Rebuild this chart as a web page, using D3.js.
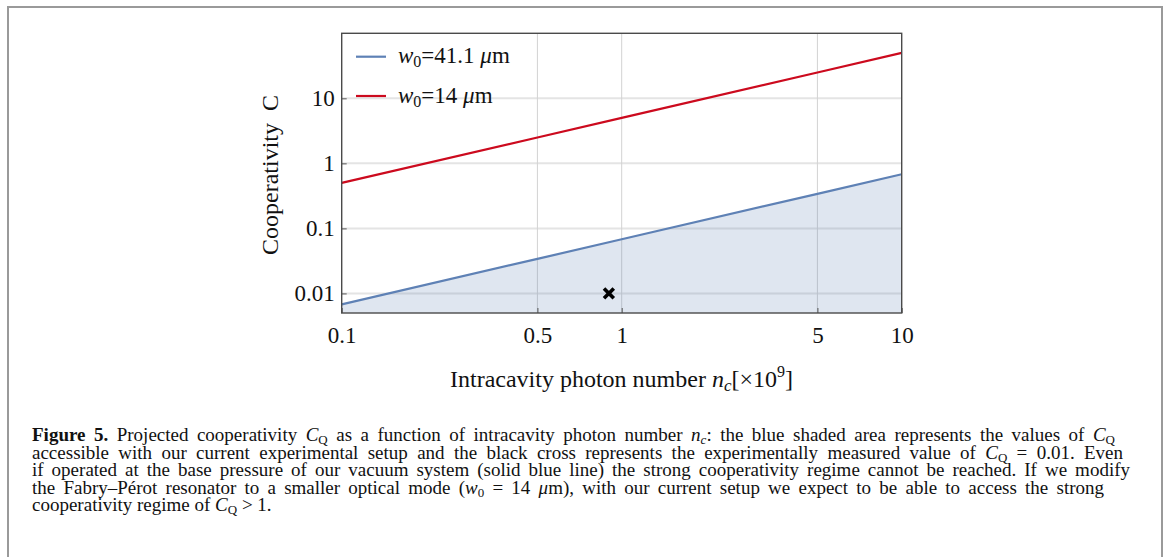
<!DOCTYPE html>
<html>
<head>
<meta charset="utf-8">
<script src="https://cdn.jsdelivr.net/npm/d3@7"></script>
<style>
  body { margin: 0; background: #fff; }
  svg { display: block; }
  text { font-family: "Liberation Serif", "Times New Roman", serif; fill: #111; }
</style>
</head>
<body>
<div id="chart"></div>
<script>
var width = 1169,
    height = 557;

// values
var photonNumbers = [0.1, 0.5, 1, 5, 10];
var coopLarge = [0.0068, 0.034, 0.068, 0.34, 0.68];   // w0 = 41.1 um
var coopSmall = [0.5, 2.5, 5, 25, 50];                // w0 = 14 um
var measured = [{n: 0.9, c: 0.01}];

var xTicks = [0.1, 0.5, 1, 5, 10],
    xTickLabels = ['0.1', '0.5', '1', '5', '10'];
var yTicks = [0.01, 0.1, 1, 10],
    yTickLabels = ['0.01', '0.1', '1', '10'];

var legendLabels = ['41.1', '14'];
var lineColors = ['#5e81b5', '#cc0a1e'];

var captionLines = [
  [['Figure 5.', 'b'], [' Projected cooperativity '], ['C', 'i'], ['Q', 'sub'], [' as a function of intracavity photon number '], ['n', 'i'], ['c', 'isub'], [': the blue shaded area represents the values of '], ['C', 'i'], ['Q', 'sub']],
  [['accessible with our current experimental setup and the black cross represents the experimentally measured value of '], ['C', 'i'], ['Q', 'sub'], [' = 0.01. Even']],
  [['if operated at the base pressure of our vacuum system (solid blue line) the strong cooperativity regime cannot be reached. If we modify']],
  [['the Fabry\u2013P\u00e9rot resonator to a smaller optical mode ('], ['w', 'i'], ['0', 'sub'], [' = 14 '], ['\u03bc', 'i'], ['m), with our current setup we expect to be able to access the strong']],
  [['cooperativity regime of '], ['C', 'i'], ['Q', 'sub'], [' > 1.']]
];
// right edge of each justified caption line (last line is left ragged)
var captionEnds = [1115, 1123, 1130, 1104, null];

var data = photonNumbers.map(function(n, i) {
    return {n: n, large: coopLarge[i], small: coopSmall[i]};
});

var svg = d3.select('#chart').append('svg')
    .attr('width', width)
    .attr('height', height);

// outer figure frame
svg.append('rect')
    .attr('x', 8).attr('y', 7)
    .attr('width', 1154).attr('height', 560)
    .attr('fill', 'none')
    .attr('stroke', '#9a9a9a')
    .attr('stroke-width', 2);

var plot = {left: 341.7, right: 901.7, top: 33.3, bottom: 313};

var x = d3.scaleLog()
    .domain([0.1, 10])
    .range([plot.left, plot.right]);

var y = d3.scaleLog()
    .domain([0.005, 100])
    .range([plot.bottom, plot.top]);

// grid
svg.append('g').selectAll('line')
    .data(yTicks)
    .enter().append('line')
    .attr('x1', plot.left).attr('x2', plot.right)
    .attr('y1', function(d) { return y(d); })
    .attr('y2', function(d) { return y(d); })
    .attr('stroke', '#e4e4e4')
    .attr('stroke-width', 2);

svg.append('g').selectAll('line')
    .data(xTicks.slice(1, -1))
    .enter().append('line')
    .attr('y1', plot.top).attr('y2', plot.bottom)
    .attr('x1', function(d) { return x(d); })
    .attr('x2', function(d) { return x(d); })
    .attr('stroke', '#d2d2d2')
    .attr('stroke-width', 1);

// shaded accessible region under the blue line
var area = d3.area()
    .x(function(d) { return x(d.n); })
    .y0(plot.bottom)
    .y1(function(d) { return y(d.large); });

svg.append('path')
    .datum(data)
    .attr('d', area)
    .attr('fill', 'rgba(94,129,181,0.2)');

var lineLarge = d3.line()
    .x(function(d) { return x(d.n); })
    .y(function(d) { return y(d.large); });
var lineSmall = d3.line()
    .x(function(d) { return x(d.n); })
    .y(function(d) { return y(d.small); });

svg.append('path')
    .datum(data)
    .attr('d', lineLarge)
    .attr('fill', 'none')
    .attr('stroke', lineColors[0])
    .attr('stroke-width', 2.2);

svg.append('path')
    .datum(data)
    .attr('d', lineSmall)
    .attr('fill', 'none')
    .attr('stroke', lineColors[1])
    .attr('stroke-width', 2.2);

// measured point
svg.append('g').selectAll('path')
    .data(measured)
    .enter().append('path')
    .attr('d', d3.symbol().type(d3.symbolX).size(64))
    .attr('transform', function(d) { return 'translate(' + x(d.n) + ',' + y(d.c) + ')'; })
    .attr('fill', 'none')
    .attr('stroke', '#000')
    .attr('stroke-width', 3.6);

// axes
var xAxis = d3.axisBottom(x)
    .tickValues(xTicks)
    .tickFormat(function(d, i) { return xTickLabels[i]; })
    .tickSizeInner(-5)
    .tickSizeOuter(0)
    .tickPadding(14);

var yAxis = d3.axisLeft(y)
    .tickValues(yTicks)
    .tickFormat(function(d, i) { return yTickLabels[i]; })
    .tickSizeInner(-5)
    .tickSizeOuter(0)
    .tickPadding(7);

var gx = svg.append('g')
    .attr('transform', 'translate(0,' + plot.bottom + ')')
    .call(xAxis);
var gy = svg.append('g')
    .attr('transform', 'translate(' + plot.left + ',0)')
    .call(yAxis);

[gx, gy].forEach(function(g) {
    g.attr('font-family', null).attr('font-size', null);
    g.selectAll('.domain').remove();
    g.selectAll('.tick line').attr('stroke', '#555').attr('stroke-width', 1);
    g.selectAll('.tick text')
        .attr('font-size', 23)
        .attr('fill', '#111');
});

// plot frame
svg.append('rect')
    .attr('x', plot.left).attr('y', plot.top)
    .attr('width', plot.right - plot.left)
    .attr('height', plot.bottom - plot.top)
    .attr('fill', 'none')
    .attr('stroke', '#4a4a4a')
    .attr('stroke-width', 1.4);

// axis titles
var xt = svg.append('text')
    .attr('x', 621.5).attr('y', 387)
    .attr('text-anchor', 'middle')
    .attr('font-size', 24);
xt.append('tspan').text('Intracavity photon number ');
xt.append('tspan').attr('font-style', 'italic').text('n');
xt.append('tspan').attr('font-style', 'italic').attr('font-size', 17).attr('dy', 4).text('c');
xt.append('tspan').attr('dy', -4).text('[\u00d710');
xt.append('tspan').attr('font-size', 16).attr('dy', -10).text('9');
xt.append('tspan').attr('dy', 10).text(']');

svg.append('text')
    .attr('transform', 'translate(278,175) rotate(-90)')
    .attr('text-anchor', 'middle')
    .attr('font-size', 24)
    .style('white-space', 'pre')
    .text('Cooperativity  C');

// legend
var legend = svg.append('g').selectAll('g')
    .data(legendLabels)
    .enter().append('g')
    .attr('transform', function(d, i) { return 'translate(356,' + (56.7 + i * 39.3) + ')'; });

legend.append('line')
    .attr('x1', 0).attr('x2', 30)
    .attr('stroke', function(d, i) { return lineColors[i]; })
    .attr('stroke-width', 2.2);

var lt = legend.append('text')
    .attr('x', 42).attr('y', 6.5)
    .attr('font-size', 23);
lt.append('tspan').attr('font-style', 'italic').text('w');
lt.append('tspan').attr('font-size', 16).attr('dy', 4).text('0');
lt.append('tspan').attr('dy', -4).text(function(d) { return '=' + d + ' '; });
lt.append('tspan').attr('font-style', 'italic').text('\u03bc');
lt.append('tspan').text('m');

// caption, justified by stretching the word gaps
var cap = svg.append('g');
captionLines.forEach(function(parts, li) {
    var t = cap.append('text')
        .attr('x', 32)
        .attr('y', 441 + li * 17.5)
        .attr('font-size', 19)
        .style('white-space', 'pre');
    var shifted = false;
    parts.forEach(function(p) {
        var s = t.append('tspan').text(p[0]);
        var isSub = p[1] === 'sub' || p[1] === 'isub';
        if (p[1] === 'b') s.attr('font-weight', 'bold');
        if (p[1] === 'i' || p[1] === 'isub') s.attr('font-style', 'italic');
        if (isSub) {
            s.attr('font-size', 13).attr('dy', 3);
            shifted = true;
        } else if (shifted) {
            s.attr('dy', -3);
            shifted = false;
        }
    });
    if (captionEnds[li]) {
        var natural = t.node().getComputedTextLength();
        var gaps = parts.map(function(p) { return p[0]; }).join('').split(' ').length - 1;
        var extra = (captionEnds[li] - 32 - natural) / gaps;
        t.style('word-spacing', extra + 'px');
    }
});
</script>
</body>
</html>
